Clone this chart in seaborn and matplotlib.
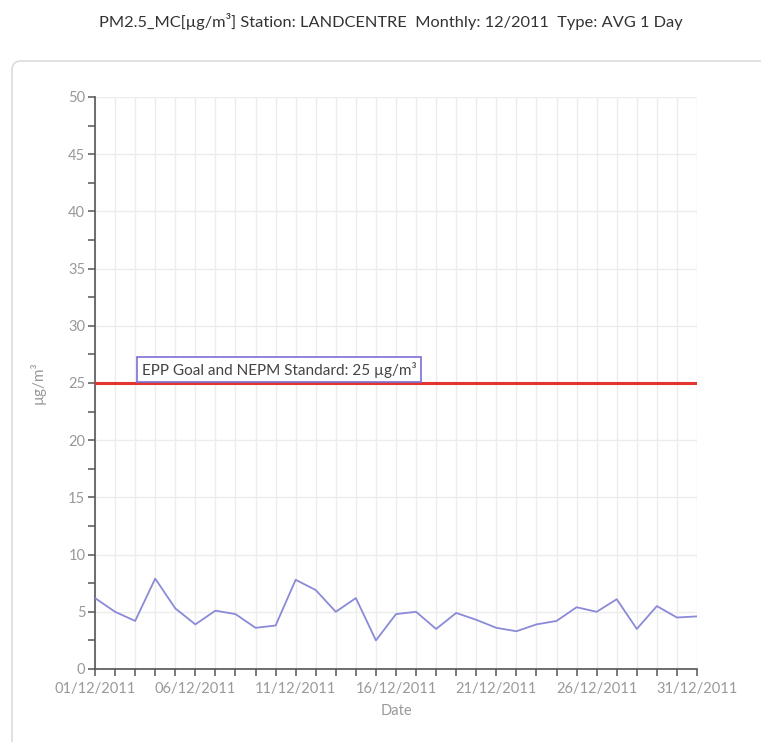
import matplotlib
matplotlib.use("Agg")
import matplotlib.pyplot as plt
import matplotlib.dates as mdates
from matplotlib.patches import FancyBboxPatch
from matplotlib.ticker import MultipleLocator
import seaborn as sns
import pandas as pd

# ---- data ----
dates = pd.date_range("2011-12-01", "2011-12-31", freq="D")
pm25 = [6.2, 5.0, 4.2, 7.9, 5.3, 3.9, 5.1, 4.8, 3.6, 3.8,
        7.8, 6.9, 5.0, 6.2, 2.5, 4.8, 5.0, 3.5, 4.9, 4.3,
        3.6, 3.3, 3.9, 4.2, 5.4, 5.0, 6.1, 3.5, 5.5, 4.5, 4.6]
standard_value = 25
standard_label = "EPP Goal and NEPM Standard: 25 µg/m³"
title_text = "PM2.5_MC[µg/m³] Station: LANDCENTRE  Monthly: 12/2011  Type: AVG 1 Day"
y_ticks = [0, 5, 10, 15, 20, 25, 30, 35, 40, 45, 50]
x_label_days = [1, 6, 11, 16, 21, 26, 31]

df = pd.DataFrame({"Date": dates, "value": pm25})

sns.set_theme(style="white")
plt.rcParams['font.family'] = ['Lato', 'DejaVu Sans']

W, H = 761, 742
fig = plt.figure(figsize=(W / 100, H / 100), dpi=100)

# panel frame
frame = FancyBboxPatch((12 / W, -0.1), 1.2, 0.1 + (1 - 61 / H),
                       boxstyle="round,pad=0,rounding_size=0.012",
                       transform=fig.transFigure, facecolor="white",
                       edgecolor="#dcdcdc", linewidth=1.2, zorder=-10)
fig.patches.append(frame)

ax = fig.add_axes([95 / W, 1 - 669 / H, (697 - 95) / W, (669 - 97) / H])
ax.patch.set_visible(False)

sns.lineplot(data=df, x="Date", y="value", ax=ax, color="#8a8ad8",
             linewidth=1.3, zorder=3)
ax.axhline(standard_value, color="#e3342f", linewidth=2.2, zorder=4)

ax.set_xlim(dates[0], dates[-1])
ax.set_ylim(0, 50)
ax.set_yticks(y_ticks)
ax.yaxis.set_minor_locator(MultipleLocator(2.5))

ax.xaxis.set_major_locator(mdates.DayLocator(bymonthday=x_label_days))
ax.xaxis.set_minor_locator(mdates.DayLocator())
ax.xaxis.set_major_formatter(mdates.DateFormatter("%d/%m/%Y"))

ax.grid(True, which="major", axis="y", color="#ececec", linewidth=1)
ax.grid(True, which="both", axis="x", color="#ececec", linewidth=1)
ax.set_axisbelow(True)

for s in ["top", "right"]:
    ax.spines[s].set_visible(False)
for s in ["left", "bottom"]:
    ax.spines[s].set_color("#555555")
    ax.spines[s].set_linewidth(1.2)

ax.tick_params(axis="both", which="both", direction="out", colors="#555555",
               labelcolor="#999999", labelsize=10.5, width=1.1,
               left=True, bottom=True)
ax.tick_params(axis="y", which="both", length=5, pad=2)
ax.tick_params(axis="x", which="both", length=5, pad=4)

ax.set_xlabel("Date", color="#999999", fontsize=10.5, labelpad=6)
ax.set_ylabel("µg/m³", color="#999999", fontsize=11, labelpad=16)

ax.text(pd.Timestamp("2011-12-03 08:00"), standard_value + 0.45, standard_label,
        fontsize=11, color="#444444", va="bottom", ha="left", zorder=5,
        bbox=dict(boxstyle="square,pad=0.3", facecolor="white",
                  edgecolor="#7b6fd6", linewidth=1.2))

fig.text(391 / W, 1 - 22 / H, title_text, ha="center", va="center",
         fontsize=11.8, color="#333333")

fig.savefig("out.png", dpi=100)
